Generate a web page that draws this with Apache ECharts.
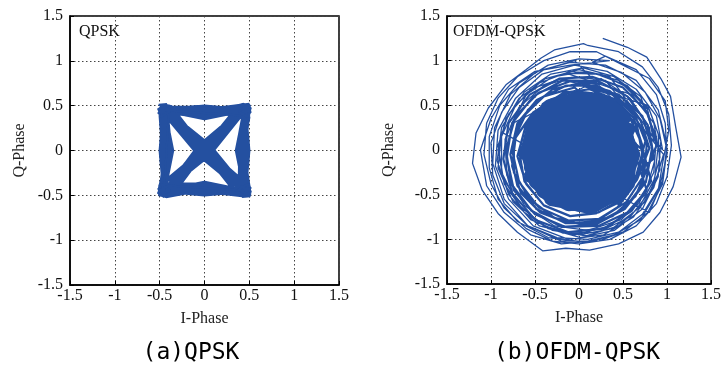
<!DOCTYPE html>
<html>
<head>
<meta charset="utf-8">
<script src="https://cdn.jsdelivr.net/npm/echarts/dist/echarts.min.js"></script>
<style>
html, body { margin: 0; padding: 0; background: #fff; }
#chart { width: 724px; height: 369px; }
</style>
</head>
<body>
<div id="chart"></div>
<script>
// tick values shared by both panels
var ticks = [-1.5, -1, -0.5, 0, 0.5, 1, 1.5];

// (a) QPSK trajectory, [I, Q]
var qpskPoints = [
    [0.46,0.44],[0.40,0.49],[0.02,0.41],[-0.41,0.47],[-0.49,0.42],[-0.44,0.02],[-0.46,-0.43],[-0.40,-0.49],
    [0.01,-0.40],[0.43,-0.47],[0.50,-0.41],[0.01,0.02],[-0.45,0.45],[-0.50,0.48],[-0.39,0.43],[0.00,0.39],
    [0.44,0.46],[0.49,0.37],[0.41,-0.01],[0.47,-0.45],[0.38,-0.50],[0.00,-0.02],[-0.43,0.44],[-0.47,0.38],
    [-0.40,0.00],[-0.45,-0.46],[-0.50,-0.40],[-0.02,0.00],[0.45,0.47],[0.51,0.45],[0.43,0.40],[0.02,0.43],
    [-0.46,0.49],[-0.42,0.41],[-0.38,-0.01],[-0.47,-0.44],[-0.43,-0.51],[0.00,-0.43],[0.46,-0.44],[0.39,-0.46],
    [0.40,0.02],[0.46,0.45],[0.37,0.48],[-0.01,0.01],[-0.46,-0.47],[-0.51,-0.49],[-0.42,-0.38],[0.00,-0.38],
    [0.45,-0.49],[0.50,-0.46],[0.43,0.01],[0.44,0.43],[0.50,0.51],[0.00,0.45],[-0.47,0.46],[-0.38,0.49],
    [0.01,-0.01],[0.47,-0.43],[0.42,-0.50],[-0.01,-0.45],[-0.44,-0.45],[-0.48,-0.36],[-0.43,0.01],[-0.44,0.48],
    [-0.51,0.44],[-0.01,0.38],[0.42,0.45],[0.48,0.49],[-0.02,-0.01],[-0.46,-0.44],[-0.39,-0.47],[0.03,-0.39],
    [0.48,-0.48],[0.46,-0.38],[0.38,0.00],[0.47,0.42],[0.44,0.51],[0.01,0.40],[-0.45,0.43],[-0.48,0.50],
    [0.00,0.03],[0.45,-0.45],[0.51,-0.50],[0.02,-0.41],[-0.47,-0.48],[-0.50,-0.44],[-0.41,-0.02],[-0.47,0.45],
    [-0.41,0.50],[0.02,-0.02],[0.44,0.44],[0.49,0.42],[0.44,-0.02],[0.46,-0.47],[0.40,-0.44],[-0.01,0.00],
    [-0.44,0.46],[-0.49,0.39],[-0.46,-0.01],[-0.44,-0.47],[-0.37,-0.50],[0.01,0.01],[0.46,0.46],[0.40,0.50],
    [-0.02,0.44],[-0.45,0.44],[-0.50,0.47],[-0.42,0.00],[-0.48,-0.47],[-0.45,-0.50],[0.00,-0.44],[0.44,-0.46],
    [0.49,-0.43],[0.01,0.00],[-0.46,0.48],
    [0.44,0.47],[0.06,-0.04],[-0.47,-0.45],[-0.45,-0.05],[-0.49,0.46],[-0.05,0.06],[0.45,-0.47],[0.06,-0.44],
    [-0.44,-0.49],[-0.05,-0.06],[0.47,0.46],[0.05,0.37],[-0.46,0.45],[-0.37,0.02],[-0.45,-0.44],[0.04,-0.37],
    [0.47,-0.46],[0.37,-0.03],[0.45,0.48],[-0.06,0.05],[-0.44,-0.46],[-0.05,-0.37],[0.46,-0.44],[0.05,0.06],
    [-0.46,0.47],[0.03,0.47],[0.45,0.45],[0.47,0.04],[0.44,-0.46],[-0.06,-0.05],[-0.47,0.44],[-0.48,-0.03],
    [-0.45,-0.45],[0.06,0.05],[0.46,0.44],[-0.03,0.37],[-0.44,0.47],[0.05,-0.06],[0.46,-0.45],[-0.02,-0.47],
    [-0.46,-0.46],[-0.04,0.04],[0.45,0.47],[0.37,0.04],[0.46,-0.44],[-0.04,-0.05],[-0.46,0.44],[-0.37,-0.02],
    [-0.45,-0.47],[0.04,0.05],[0.44,0.45],
    [-0.04,0.04],[-0.45,-0.45],[0.04,-0.04],[0.45,0.45],[-0.05,0.05],[-0.45,-0.45],[0.05,-0.05],[0.45,0.45],
    [0.00,0.36],[-0.45,0.45],[0.04,0.04],[0.45,-0.45],[-0.04,-0.04],[-0.45,0.45],[0.05,0.05],[0.45,-0.45],
    [-0.05,-0.05],[-0.45,0.45],[0.00,0.49],[0.45,0.45],[0.49,0.00],[0.45,-0.45],[0.00,-0.49],[-0.45,-0.45],
    [-0.49,0.00],[-0.45,0.45],[-0.36,0.00],[-0.45,-0.45],[0.00,-0.36],[0.45,-0.45],[0.36,0.00],[0.45,0.45]
];
// noisy spikes around the four constellation corners
var qpskCorners = [
    [0.45,0.45],[0.52,0.42],[0.41,0.51],[0.51,0.50],[0.38,0.44],[0.48,0.37],[0.43,0.52],[0.52,0.47],[0.40,0.39],
    [-0.45,0.45],[-0.52,0.41],[-0.42,0.52],[-0.51,0.51],[-0.37,0.45],[-0.49,0.37],[-0.44,0.51],[-0.52,0.46],[-0.40,0.40],
    [-0.45,-0.45],[-0.52,-0.42],[-0.41,-0.52],[-0.51,-0.50],[-0.38,-0.45],[-0.48,-0.37],[-0.45,-0.52],[-0.52,-0.47],[-0.40,-0.39],
    [0.45,-0.45],[0.52,-0.41],[0.42,-0.52],[0.51,-0.51],[0.37,-0.44],[0.49,-0.37],[0.44,-0.51],[0.52,-0.46],[0.40,-0.40]
];

// (b) OFDM-QPSK trajectory: outer loops, ring loops, mid loops and dense core
var ofdmOuter = [
    [0.27,1.25],[0.55,1.15],[0.77,1.04],[0.93,0.80],[1.04,0.60],[1.10,0.25],[1.16,-0.08],[1.07,-0.41],
    [0.92,-0.70],[0.73,-0.92],[0.45,-1.05],[0.12,-1.12],[-0.15,-1.10],[-0.41,-1.13],[-0.70,-0.92],[-0.92,-0.71],
    [-1.10,-0.45],[-1.21,-0.15],[-1.17,0.19],[-1.03,0.47],[-0.83,0.73],[-0.60,0.90],[-0.43,1.03],[-0.28,1.12],
    [0.05,1.19],[0.10,1.17],[0.45,1.10],[0.72,0.93],[0.90,0.70],[1.02,0.40],[1.05,0.05],[1.00,-0.30],
    [0.88,-0.60],[0.65,-0.85],[0.35,-1.00],[0.00,-1.05],[-0.30,-1.02],[-0.60,-0.88],[-0.85,-0.65],[-1.00,-0.38],
    [-1.08,-0.05],[-1.05,0.30],[-0.92,0.58],[-0.70,0.82],[-0.40,1.00],[-0.10,1.10],[0.20,1.10],[0.50,0.95],
    [0.80,0.80],[0.98,0.55],[1.02,0.22],[0.95,-0.15],[0.90,-0.45],[0.70,-0.78],[0.40,-0.95],[0.05,-1.03],
    [-0.35,-0.98],[-0.70,-0.80],[-0.92,-0.55],[-1.02,-0.20],[-1.02,0.15],[-0.90,0.50],[-0.68,0.75],[-0.35,0.95],
    [0.00,1.02],[0.35,1.00],[-0.10,0.95],[-0.50,0.88],[-0.80,0.68],[-1.00,0.35],[-1.12,0.00],[-1.05,-0.40],
    [-0.85,-0.70],[-0.55,-0.95],[-0.20,-1.05],[0.15,-1.02],[0.50,-0.92],[0.78,-0.70],[0.95,-0.38],[1.00,0.00],
    [0.92,0.35],[0.75,0.65],[0.48,0.87],[0.15,0.98],[0.30,1.05],[0.65,0.90],[0.88,0.62],[0.98,0.30],
    [1.00,-0.05],[0.92,-0.40],[0.72,-0.72],[0.45,-0.92],[0.10,-1.00],[-0.25,-0.98],[-0.58,-0.85],[-0.85,-0.60],
    [-0.98,-0.28],[-1.00,0.08],[-0.88,0.42],[-0.68,0.70],[-0.40,0.90],[-0.05,1.00]
];
var ofdmRing = [
    [0.85,0.10],[0.78,0.45],[0.55,0.70],[0.25,0.85],[-0.10,0.88],[-0.45,0.75],[-0.72,0.50],[-0.88,0.15],
    [-0.88,-0.25],[-0.70,-0.60],[-0.40,-0.85],[0.00,-0.95],[0.38,-0.88],[0.68,-0.65],[0.86,-0.32],[0.90,0.05],
    [0.70,0.60],[0.40,0.82],[0.05,0.92],[-0.32,0.85],[-0.62,0.65],[-0.83,0.35],[-0.92,0.00],[-0.85,-0.38],
    [-0.62,-0.70],[-0.30,-0.90],[0.08,-0.96],[0.45,-0.85],[0.75,-0.58],[0.92,-0.22],[0.90,0.18],[0.78,0.50],
    [-0.20,0.80],[-0.55,0.68],[-0.80,0.40],[-0.92,0.05],[-0.86,-0.32],[-0.65,-0.65],[-0.35,-0.88],[0.02,-0.98],
    [0.40,-0.90],[0.72,-0.66],[0.90,-0.30],[0.93,0.10],[0.80,0.45],[0.55,0.72],[0.20,0.85],[-0.15,0.86],
    [0.60,0.62],[0.85,0.30],[0.92,-0.08],[0.82,-0.45],[0.58,-0.75],[0.22,-0.92],[-0.18,-0.93],[-0.55,-0.78],
    [-0.80,-0.50],[-0.93,-0.12],[-0.88,0.25],[-0.68,0.58],[-0.38,0.80],[0.00,0.90],[0.35,0.82],[0.95,0.00],
    [0.88,0.38],[0.65,0.68],[0.32,0.88],[-0.05,0.95],[-0.42,0.85],[-0.72,0.58],[-0.92,0.22],[-0.95,-0.18],
    [-0.80,-0.55],[-0.52,-0.85],[-0.12,-1.00],[0.28,-0.95],[0.62,-0.75],[0.85,-0.42],[0.96,-0.05],[0.30,0.78],
    [-0.05,0.82],[-0.40,0.72],[-0.68,0.48],[-0.84,0.12],[-0.82,-0.28],[-0.62,-0.62],[-0.28,-0.85],[0.10,-0.90],
    [0.48,-0.78],[0.75,-0.50],[0.86,-0.12],[0.80,0.25],[0.58,0.58],[0.25,0.80],[-0.75,0.30],[-0.60,0.62],
    [-0.30,0.82],[0.08,0.88],[0.45,0.78],[0.72,0.52],[0.88,0.15],[0.85,-0.25],[0.68,-0.60],[0.35,-0.85],
    [-0.05,-0.95],[-0.45,-0.85],[-0.75,-0.58],[-0.92,-0.20],[-0.88,0.20],[0.80,-0.70],[0.95,-0.35],[1.00,0.05],
    [0.90,0.45],[0.65,0.78],[0.30,0.95],[-0.10,0.98],[-0.48,0.88],[-0.78,0.62],[-0.96,0.25],[-0.98,-0.15],
    [-0.85,-0.55],[-0.58,-0.85],[-0.20,-1.02],[0.22,-1.02],[0.55,-0.90]
];
var ofdmMid = [
    [0.72,-0.05],[0.66,0.27],[0.43,0.52],[0.15,0.62],[-0.15,0.65],[-0.42,0.48],[-0.62,0.22],[-0.70,-0.07],
    [-0.60,-0.38],[-0.40,-0.62],[-0.10,-0.74],[0.19,-0.71],[0.47,-0.58],[0.66,-0.33],
    [0.80,0.02],[0.70,0.33],[0.50,0.58],[0.20,0.72],[-0.15,0.72],[-0.48,0.56],[-0.70,0.30],[-0.78,-0.05],
    [-0.70,-0.40],[-0.48,-0.66],[-0.15,-0.82],[0.20,-0.82],[0.52,-0.65],[0.73,-0.38],
    [0.72,0.05],[0.62,0.36],[0.40,0.57],[0.12,0.68],[-0.18,0.64],[-0.44,0.46],[-0.58,0.18],[-0.62,-0.12],
    [-0.52,-0.40],[-0.30,-0.60],[0.00,-0.68],[0.30,-0.62],[0.55,-0.45],[0.70,-0.20],
    [0.85,-0.10],[0.78,0.28],[0.55,0.60],[0.22,0.77],[-0.18,0.78],[-0.52,0.60],[-0.76,0.30],[-0.82,-0.08],
    [-0.74,-0.45],[-0.50,-0.72],[-0.16,-0.86],[0.22,-0.85],[0.55,-0.70],[0.77,-0.45],
    [0.66,-0.12],[0.60,0.20],[0.38,0.46],[0.08,0.60],[-0.24,0.60],[-0.52,0.42],[-0.72,0.14],[-0.76,-0.18],
    [-0.66,-0.48],[-0.44,-0.70],[-0.12,-0.82],[0.18,-0.80],[0.44,-0.64],[0.62,-0.40],
    [0.76,0.12],[0.60,0.45],[0.35,0.66],[0.02,0.75],[-0.30,0.68],[-0.58,0.45],[-0.74,0.12],[-0.74,-0.25],
    [-0.56,-0.55],[-0.28,-0.76],[0.05,-0.84],[0.38,-0.74],[0.64,-0.52],[0.78,-0.20],
    [0.88,0.05],[0.78,0.42],[0.50,0.70],[0.15,0.82],[-0.22,0.80],[-0.56,0.62],[-0.80,0.30],[-0.86,-0.10],
    [-0.76,-0.48],[-0.50,-0.78],[-0.12,-0.92],[0.28,-0.88],[0.60,-0.68],[0.82,-0.35],
    [0.70,0.10],[0.55,0.42],[0.28,0.62],[-0.05,0.66],[-0.36,0.55],[-0.60,0.30],[-0.68,-0.02],[-0.62,-0.35],
    [-0.40,-0.62],[-0.10,-0.74],[0.22,-0.70],[0.50,-0.54],[0.68,-0.28],[0.72,0.00],
    [-0.05,0.70],[-0.40,0.60],[-0.66,0.35],[-0.76,0.00],[-0.68,-0.36],[-0.46,-0.64],[-0.12,-0.79],[0.24,-0.77],
    [0.54,-0.58],[0.74,-0.28],[0.77,0.06],[0.64,0.38],[0.38,0.62],[0.04,0.72],
    [0.45,0.62],[0.72,0.38],[0.83,0.02],[0.76,-0.36],[0.52,-0.66],[0.18,-0.84],[-0.20,-0.86],[-0.54,-0.68],
    [-0.77,-0.38],[-0.83,0.00],[-0.72,0.38],[-0.46,0.64],[-0.10,0.77],[0.25,0.74]
];
var ofdmCore = [
    [0.58,-0.08],[0.50,0.28],[0.25,0.50],[-0.08,0.56],[-0.38,0.45],[-0.56,0.15],[-0.57,-0.20],[-0.42,-0.48],
    [-0.12,-0.63],[0.20,-0.60],[0.46,-0.42],[0.60,-0.12],[0.40,0.15],[0.16,0.36],[-0.12,0.38],[-0.34,0.22],
    [-0.40,-0.05],[-0.30,-0.34],[-0.04,-0.45],[0.25,-0.38],[0.40,-0.13],[0.20,0.08],[0.00,0.18],[-0.18,0.06],
    [-0.15,-0.18],[0.07,-0.24],[0.18,-0.04],[0.54,0.36],[0.33,0.55],[0.00,0.60],[-0.31,0.52],[-0.53,0.32],
    [-0.61,-0.02],[-0.51,-0.37],[-0.26,-0.58],[0.07,-0.65],[0.38,-0.54],[0.58,-0.29],[0.62,0.04],[0.29,0.24],
    [-0.25,0.32],[-0.50,-0.26],[0.08,-0.54],[0.50,-0.21],[0.37,0.44],[-0.17,0.50],[-0.59,0.08],[-0.37,-0.52],
    [0.25,-0.58],[0.56,0.16],[0.12,0.28],[-0.29,0.12],[-0.20,-0.38],[0.29,-0.25],[0.33,0.04],[0.45,0.45],
    [0.08,0.55],[-0.45,0.38],[-0.56,-0.09],[-0.33,-0.57],[0.15,-0.66],[0.51,-0.46],[0.64,-0.05],[0.48,0.34],
    [0.00,0.00],[-0.41,0.24],[-0.17,-0.58],[0.41,-0.34],[0.25,0.47],[-0.51,0.20],[-0.45,-0.38],[0.04,-0.38],
    [0.37,0.28],[-0.08,0.45],[-0.58,-0.30],[0.00,-0.60],[0.53,-0.07],[0.16,0.57],[-0.37,0.50],[-0.64,-0.05],
    [-0.08,-0.30],[0.45,0.08],[0.08,0.16],[-0.25,-0.09],[0.20,-0.50],[0.59,0.24],[-0.04,0.49],[-0.48,0.04],
    [-0.25,-0.50],[0.33,-0.48],[0.49,-0.58],[-0.30,0.00],[0.30,-0.10],[0.10,0.40],[-0.10,-0.10],[0.50,0.00],
    [-0.20,0.30],[-0.40,-0.20],[0.15,-0.15],[0.35,0.35],[-0.15,0.15],[-0.05,-0.50],[0.45,-0.25],[-0.50,0.35],
    [0.25,-0.25],[0.00,0.35],[-0.35,-0.40],[0.55,0.20],[-0.10,0.20],[0.20,-0.40],[-0.45,-0.05]
];

var lineColor = '#2450a0';
var serif = '"Liberation Serif", "Times New Roman", serif';

var chartDom = document.getElementById('chart');
var myChart = echarts.init(chartDom, null, { renderer: 'canvas' });

function makeAxis(grid, name, gap, isY) {
    return {
        type: 'value',
        gridIndex: grid,
        min: ticks[0],
        max: ticks[ticks.length - 1],
        interval: 0.5,
        name: name,
        nameLocation: 'middle',
        nameGap: gap,
        nameRotate: isY ? 90 : 0,
        nameTextStyle: { fontFamily: serif, fontSize: 16, color: '#222' },
        axisLine: { show: true, onZero: false, lineStyle: { color: '#000', width: 1.5 } },
        axisTick: { show: true, inside: true, length: 4, lineStyle: { color: '#000' } },
        axisLabel: {
            fontFamily: serif, fontSize: 16, color: '#111',
            margin: isY ? 7 : 3,
            showMinLabel: true, showMaxLabel: true
        },
        splitLine: { show: true, lineStyle: { color: '#444', type: [1.5, 2.5], width: 1 } }
    };
}

function trace(grid, data, width) {
    return {
        type: 'line', xAxisIndex: grid, yAxisIndex: grid,
        data: data, showSymbol: false, silent: true,
        lineStyle: { color: lineColor, width: width }
    };
}

var option = {
    animation: false,
    grid: [
        { left: 70, top: 16, width: 269, height: 269, show: true, borderColor: '#000', borderWidth: 1.5 },
        { left: 447, top: 16, width: 267, height: 268, show: true, borderColor: '#000', borderWidth: 1.5 }
    ],
    xAxis: [
        makeAxis(0, 'I-Phase', 26, false),
        makeAxis(1, 'I-Phase', 26, false)
    ],
    yAxis: [
        makeAxis(0, 'Q-Phase', 42, true),
        makeAxis(1, 'Q-Phase', 50, true)
    ],
    graphic: [
        { type: 'text', left: 79, top: 24, style: { text: 'QPSK', font: '16px "Liberation Serif"', fill: '#111' } },
        { type: 'text', left: 453, top: 24, style: { text: 'OFDM-QPSK', font: '16px "Liberation Serif"', fill: '#111' } },
        { type: 'text', x: 191, y: 353, style: { text: '(a)QPSK', font: '23px "DejaVu Sans Mono"', fill: '#000', textAlign: 'center', textVerticalAlign: 'middle' } },
        { type: 'text', x: 577, y: 353, style: { text: '(b)OFDM-QPSK', font: '23px "DejaVu Sans Mono"', fill: '#000', textAlign: 'center', textVerticalAlign: 'middle' } }
    ],
    series: [
        trace(0, qpskPoints, 4),
        trace(0, qpskCorners, 2),
        trace(1, ofdmOuter.concat(ofdmRing), 1.3),
        trace(1, ofdmMid, 2.2),
        trace(1, ofdmCore, 10)
    ]
};

myChart.setOption(option);
window.addEventListener('resize', function () {
    myChart.resize();
});
</script>
</body>
</html>
